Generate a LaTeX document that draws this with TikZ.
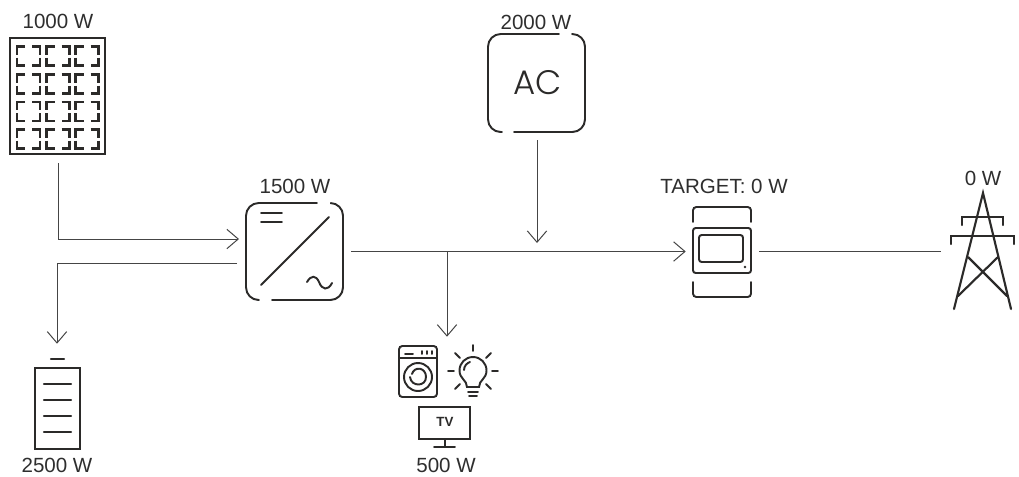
\documentclass[tikz,border=0pt]{standalone}
\usepackage{fontspec}
\setmainfont{Liberation Sans}
\newfontfamily\acfont[UprightFont=* Light]{Poppins}
\usetikzlibrary{arrows.meta,calc,positioning}
\definecolor{inkdark}{HTML}{2B2A29}
\definecolor{wiregray}{HTML}{454545}
\definecolor{labelgray}{HTML}{2E2E2E}
\begin{document}
\begin{tikzpicture}[
    x=0.75pt, y=-0.75pt,
    label/.style={font=\fontsize{15.4}{18}\selectfont, text=labelgray, inner sep=0pt},
    icon/.style={draw=inkdark, line width=1.8pt, line cap=round},
    thinicon/.style={draw=inkdark, line width=1.45pt, line cap=round},
    cellcorner/.style={draw=inkdark, line width=1.6pt},
    port/.style={inner sep=0pt, minimum size=0pt},
    wire/.style={draw=wiregray, line width=0.75pt},
    arrow/.style={wire, -{Straight Barb[length=8.5pt, width=14.5pt, line width=0.75pt]}},
]
\useasboundingbox (0,0) rectangle (1019,476);

\node[label] (pvlabel) at (58,21) {1000 W};
\node[label] (aclabel) at (536,22) {2000 W};
\node[label] (invlabel) at (295,186) {1500 W};
\node[label] (meterlabel) at (724,186) {TARGET: 0 W};
\node[label] (gridlabel) at (983,178) {0 W};
\node[label] (batlabel) at (57,465) {2500 W};
\node[label] (loadlabel) at (446,465) {500 W};

% solar panel
\node[port] (pv) at (58,163) {};
\draw[icon, line width=2pt, line cap=butt] (10,38) rectangle (105,154);
\foreach \cx in {17,46.5,75.5}
  \foreach \cy in {46.5,74.5,102,129.5}{
    \draw[cellcorner] (\cx+8,\cy) -- (\cx,\cy) -- (\cx,\cy+8);
    \draw[cellcorner] (\cx+15,\cy) -- (\cx+23,\cy) -- (\cx+23,\cy+8);
    \draw[cellcorner] (\cx,\cy+11) -- (\cx,\cy+19) -- (\cx+8,\cy+19);
    \draw[cellcorner] (\cx+23,\cy+11) -- (\cx+23,\cy+19) -- (\cx+15,\cy+19);
  }

% ac source
\node[port] (ac) at (537,140) {};
\draw[thinicon, rounded corners=9.5pt] (559,34) -- (488,34) -- (488,132) -- (502,132);
\draw[thinicon, rounded corners=9.5pt] (514,132) -- (585,132) -- (585,34) -- (572,34);
\node[inner sep=0pt, text=inkdark, font=\fontsize{25.5}{28}\acfont] (actext) at (538,83) {AC};

% inverter
\coordinate (invin) at (239,239);
\coordinate (invbat) at (237,263);
\node[port] (invout) at (351,251.5) {};
\draw[thinicon, rounded corners=9.5pt] (317,203) -- (246,203) -- (246,300) -- (259,300);
\draw[thinicon, rounded corners=9.5pt] (272,300) -- (343,300) -- (343,203) -- (331,203);
\draw[thinicon] (261,213) -- (282,213) (261,222) -- (282,222);
\draw[thinicon] (261,285) -- (329,217);
\draw[thinicon] (307,282) .. controls (311,275) and (316,275) .. (319,282)
    .. controls (322,290) and (328,291) .. (332,283);

% battery
\node[port] (bat) at (57,344) {};
\draw[icon] (51,359) -- (64,359);
\draw[icon, line cap=butt] (35,368) rectangle (80,449);
\foreach \ly in {384,400,416,432}
  \draw[icon] (44,\ly) -- (71,\ly);

% loads
\node[port] (load) at (447,337) {};
\draw[thinicon, rounded corners=2.5pt] (399,346) rectangle (437,397);
\draw[thinicon] (399,358) -- (437,358);
\draw[thinicon] (405,354) -- (413,354);
\draw[thinicon] (422,351) -- (422,354) (427,351) -- (427,354) (432,351) -- (432,354);
\draw[thinicon] (418,377) circle[radius=14];
\draw[thinicon] (412,374) .. controls (414,366) and (426,367) .. (426,377)
    .. controls (426,387) and (411,387) .. (410,377);
\draw[thinicon] (467,387) .. controls (467,380) and (459.5,379) .. (459.5,370.5)
    .. controls (459.5,363) and (465.5,357) .. (473,357)
    .. controls (480.5,357) and (486.5,363) .. (486.5,370.5)
    .. controls (486.5,379) and (479,380) .. (479,387) -- cycle;
\draw[thinicon] (464,370) .. controls (464,366) and (467,363) .. (470,362);
\draw[thinicon] (468,392) -- (478,392) (469,396) -- (477,396);
\draw[thinicon] (473,345) -- (473,351) (448,371) -- (454,371) (492,371) -- (498,371)
    (455,353) -- (460,358) (491,353) -- (486,358) (455,389) -- (460,384) (491,389) -- (486,384);
\draw[thinicon, line cap=butt, line width=1.6pt] (419,407) rectangle (470,439);
\node[inner sep=0pt, text=inkdark, font=\fontsize{10}{11}\selectfont\bfseries] (tvtext) at (445,422) {TV};
\draw[thinicon] (445,439) -- (445,447) (434,447) -- (455,447);

% meter
\node[port] (meterin) at (686,251.5) {};
\node[port] (meterout) at (759,251.5) {};
\draw[thinicon, rounded corners=2.5pt] (693,222) -- (693,207) -- (751,207) -- (751,222);
\draw[thinicon, rounded corners=2pt] (693,228) rectangle (751,273);
\draw[thinicon, rounded corners=2pt] (699,235) rectangle (743,262);
\fill[inkdark] (745,267) circle[radius=1.4];
\draw[thinicon, rounded corners=2.5pt] (693,282) -- (693,297) -- (751,297) -- (751,282);

% pylon
\node[port] (grid) at (941,251.5) {};
\draw[icon, line width=1.6pt] (954,309) -- (983,193) -- (1011,309);
\draw[icon, line width=1.6pt] (962,225) -- (962,217) -- (1003,217) -- (1003,225);
\draw[icon, line width=1.6pt] (951,244) -- (951,236) -- (1014,236) -- (1014,244);
\draw[icon, line width=1.6pt] (968,257) -- (1007,296) (998,257) -- (958,296);

% connectors
\coordinate (branch) at (447,251.5);
\coordinate (acdrop) at (537,243);
\draw[arrow] (pv) |- (invin);
\draw[arrow] (invbat) -| (bat);
\draw[arrow] (invout) -- (meterin);
\draw[arrow] (ac) -- (acdrop);
\draw[arrow] (branch) -- (load);
\draw[wire] (meterout) -- (grid);
\end{tikzpicture}
\end{document}
